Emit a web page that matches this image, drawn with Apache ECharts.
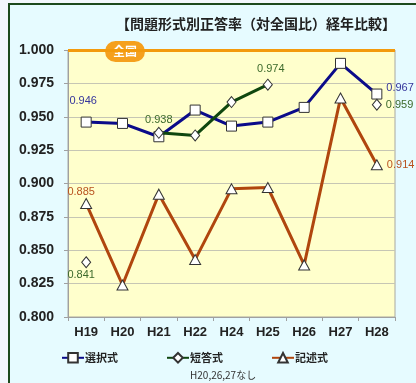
<!DOCTYPE html>
<html>
<head>
<meta charset="utf-8">
<script src="https://cdn.jsdelivr.net/npm/echarts@6/dist/echarts.min.js"></script>
<style>
  html, body { margin: 0; padding: 0; background: #f3f7fd; }
  #frame {
    position: absolute; left: 8px; top: 3px; width: 420px; height: 400px;
    border-left: 2px solid #1d4a1d; border-top: 2px solid #1d4a1d;
    background: #e6fbff;
  }
  #chart { position: absolute; left: 0; top: 0; width: 416px; height: 383px; }
</style>
</head>
<body>
<div id="frame"></div>
<div id="chart"></div>
<script>
// Survey years (H20/26/27 have no 短答式 questions)
const categories = ['H19', 'H20', 'H21', 'H22', 'H24', 'H25', 'H26', 'H27', 'H28'];

// Correct-answer ratio relative to the national average (1.000 = national)
const sentaku = [0.946, 0.945, 0.935, 0.955, 0.943, 0.946, 0.957, 0.990, 0.967];
const tanto   = [0.841, null,  0.938, 0.936, 0.961, 0.974, null,  null,  0.959];
const kijutsu = [0.885, 0.824, 0.892, 0.843, 0.896, 0.897, 0.839, 0.964, 0.914];

const seriesNames = ['選択式', '短答式', '記述式'];
const yMin = 0.800, yMax = 1.000, yStep = 0.025;

const titleText = '【問題形式別正答率（対全国比）経年比較】';
const nationalText = '全国';
const noteText = 'H20,26,27なし';

// Which points carry a value label, and where it sits
const labelPlacement = {
  '選択式': { 0: { position: 'top', distance: 10, offset: [-3, 0] },
              8: { position: 'right', distance: 4, offset: [0, -6] } },
  '短答式': { 0: { position: 'bottom', distance: 1, offset: [-5, 0] },
              2: { position: 'top', distance: 1, offset: [0, 0] },
              5: { position: 'top', distance: 4, offset: [3, 0] },
              8: { position: 'right', distance: 4, offset: [0, 0] } },
  '記述式': { 0: { position: 'top', distance: 1, offset: [-5, 0] },
              8: { position: 'right', distance: 4, offset: [0, 0] } }
};

const lineColors = { '選択式': '#0b0b8a', '短答式': '#0f470f', '記述式': '#b0460e' };
const labelColors = { '選択式': '#35359c', '短答式': '#3d6a2c', '記述式': '#b8521f' };
const symbols = { '選択式': ['rect', 10], '短答式': ['diamond', [9, 11]], '記述式': ['triangle', [11, 10]] };

const sans = '"Liberation Sans", Arial, sans-serif';
const cjk = '"Noto Sans CJK JP", "Liberation Sans", sans-serif';

function buildData(name, values) {
  const marks = labelPlacement[name] || {};
  return values.map(function (v, i) {
    const p = marks[i];
    if (v === null || !p) return v;
    return {
      value: v,
      label: {
        show: true,
        position: p.position,
        distance: p.distance,
        offset: p.offset,
        color: labelColors[name],
        fontFamily: sans,
        fontSize: 11,
        formatter: function (d) { return d.value.toFixed(3); }
      }
    };
  });
}

function makeSeries(name, values, extra) {
  const s = {
    name: name,
    type: 'line',
    data: buildData(name, values),
    connectNulls: false,
    symbol: symbols[name][0],
    symbolSize: symbols[name][1],
    showAllSymbol: true,
    lineStyle: { color: lineColors[name], width: 3 },
    itemStyle: { color: '#ffffff', borderColor: '#333333', borderWidth: 1 },
    emphasis: { disabled: true },
    animation: false
  };
  return Object.assign(s, extra || {});
}

const chart = echarts.init(document.getElementById('chart'), null, { renderer: 'canvas' });

chart.setOption({
  backgroundColor: 'transparent',
  animation: false,
  title: {
    text: titleText,
    left: 251, top: 12, textAlign: 'center',
    textStyle: { fontFamily: cjk, fontSize: 14, fontWeight: 'bold', color: '#222' }
  },
  grid: {
    left: 68, right: 21, top: 50, bottom: 66,
    show: true, backgroundColor: '#ffffcc', borderColor: '#a8a8a0', borderWidth: 1
  },
  legend: {
    left: 61, top: 352, padding: 0,
    itemWidth: 22, itemHeight: 12, itemGap: 48,
    data: seriesNames,
    textStyle: { fontFamily: cjk, fontSize: 11, fontWeight: 'bold', color: '#222', padding: [0, 0, 0, -4] }
  },
  xAxis: {
    type: 'category',
    data: categories,
    boundaryGap: true,
    axisLine: { lineStyle: { color: '#a0a0a0', width: 1 } },
    axisTick: { show: true, length: 4, lineStyle: { color: '#a0a0a0' } },
    axisLabel: { margin: 9, fontFamily: sans, fontWeight: 'bold', fontSize: 13, color: '#222' }
  },
  yAxis: {
    type: 'value',
    min: yMin, max: yMax, interval: yStep,
    axisLine: { show: true, lineStyle: { color: '#a0a0a0' } },
    axisTick: { show: true, length: 4, lineStyle: { color: '#a0a0a0' } },
    splitLine: { lineStyle: { color: '#c6c6b4', width: 1 } },
    axisLabel: {
      margin: 14, fontFamily: sans, fontWeight: 'bold', fontSize: 14, color: '#222',
      formatter: function (v) { return v.toFixed(3); }
    }
  },
  series: [
    makeSeries('選択式', sentaku, {
      z: 3,
      markLine: {
        silent: true, symbol: 'none', animation: false,
        label: { show: false },
        lineStyle: { color: '#f39a0c', width: 3, type: 'solid' },
        data: [{ yAxis: yMax }]
      }
    }),
    makeSeries('短答式', tanto, { z: 4 }),
    makeSeries('記述式', kijutsu, { z: 5 })
  ],
  graphic: [
    {
      type: 'group', left: 105, top: 41, z: 100,
      children: [
        { type: 'rect', shape: { x: 0, y: 0, width: 40, height: 21, r: 10.5 }, style: { fill: '#f5a01e' } },
        { type: 'text', x: 20, y: 10.5, style: { text: nationalText, fill: '#ffffff', font: 'bold 12px "Noto Sans CJK JP", sans-serif', textAlign: 'center', textVerticalAlign: 'middle' } }
      ]
    },
    {
      type: 'text', left: 190, top: 370,
      style: { text: noteText, fill: '#333', font: '10px ' + cjk }
    }
  ]
});
</script>
</body>
</html>
